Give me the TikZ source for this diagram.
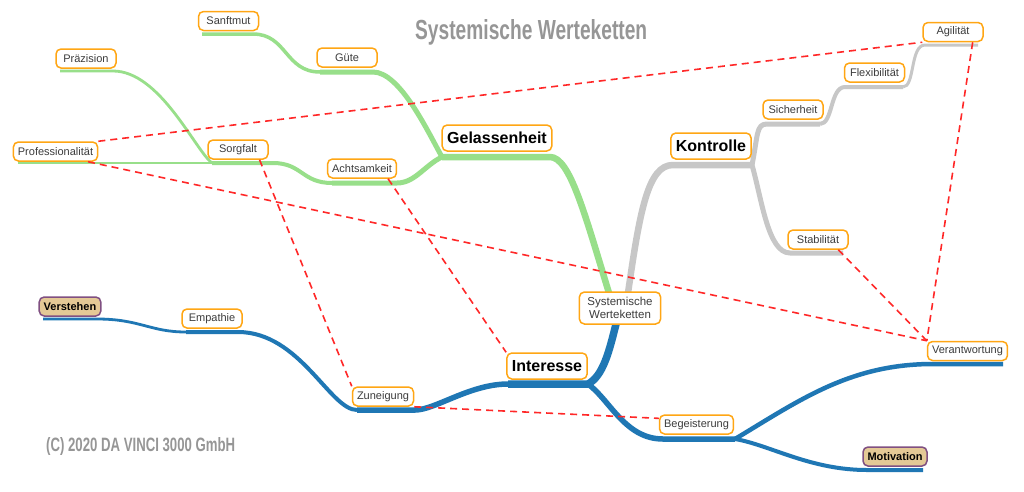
\documentclass[tikz,border=0pt]{standalone}
\usepackage{fontspec}
\usepackage{graphicx}
\setmainfont{Liberation Sans}
\usetikzlibrary{calc}
\definecolor{lgreen}{HTML}{98DF8A}
\definecolor{lgray}{HTML}{C7C7C7}
\definecolor{dblue}{HTML}{1F77B4}
\definecolor{borange}{RGB}{255,166,20}
\definecolor{tanfill}{RGB}{228,201,150}
\definecolor{purp}{RGB}{128,80,130}
\definecolor{ttlgray}{RGB}{150,150,150}
\definecolor{dashred}{RGB}{255,40,40}
\definecolor{txtgray}{RGB}{60,60,60}
\tikzset{
  lbl/.style={draw=borange, line width=1.5pt, rounded corners=5pt, fill=white, text=txtgray,
    font=\fontsize{11}{13}\selectfont, minimum width=60pt, minimum height=19pt,
    inner xsep=4.5pt, inner ysep=2pt},
  big/.style={lbl, font=\fontsize{16}{19}\selectfont\bfseries, text=black, minimum height=26pt, inner xsep=5pt},
  goal/.style={lbl, fill=tanfill, draw=purp, text=black, font=\fontsize{11}{13}\selectfont\bfseries},
  rootn/.style={lbl, align=center, font=\fontsize{11.5}{12.5}\selectfont, inner xsep=8pt, minimum height=32pt},
  link/.style={draw=dashred, dash pattern=on 7pt off 5pt, line width=1.6pt},
  gbr/.style={draw=lgreen, line join=round},
  ybr/.style={draw=lgray, line join=round},
  bbr/.style={draw=dblue, line join=round},
  ttl/.style={text=ttlgray, anchor=base west, inner sep=0pt}
}
\begin{document}
\begin{tikzpicture}[x=1pt, y=-1pt]
\useasboundingbox (0,0) rectangle (1024,491);
\fill[white] (0,0) rectangle (1024,491);

% title and copyright
\node[ttl] (title) at (415,39) {\resizebox{232pt}{20pt}{\bfseries Systemische Werteketten}};
\node[ttl] (copy) at (46,451) {\resizebox{189pt}{14pt}{\bfseries (C) 2020 DA VINCI 3000 GmbH}};

% green branches
\draw[gbr, line width=3.5pt] (202,34) -- (253,34) .. controls (287,34) and (285,72) .. (320,72);
\draw[gbr, line width=5pt] (320,72) -- (373,72) .. controls (400,72) and (428,132) .. (442,157);
\draw[gbr, line width=2.8pt] (60,71) -- (113,71) .. controls (160,71) and (195,150) .. (212,163);
\draw[gbr, line width=2.8pt] (18,163) -- (212,163);
\draw[gbr, line width=4pt] (212,163) -- (273,163) .. controls (302,163) and (302,183) .. (332,183);
\draw[gbr, line width=5pt] (332,183) -- (397,183) .. controls (415,183) and (425,165) .. (442,157);
\draw[gbr, line width=6.5pt] (442,157) -- (550,157) .. controls (570,157) and (585,215) .. (609,293);

% gray branches
\draw[ybr, line width=6.5pt] (628,293) .. controls (640,210) and (648,165) .. (673,165) -- (752,165);
\draw[ybr, line width=5pt] (752,165) .. controls (758,135) and (756,124) .. (767,124) -- (820,124);
\draw[ybr, line width=4pt] (820,124) .. controls (833,124) and (830,87) .. (845,87) -- (903,87);
\draw[ybr, line width=3pt] (903,87) .. controls (915,87) and (910,45) .. (925,45) -- (978,45);
\draw[ybr, line width=5pt] (752,165) .. controls (762,200) and (768,253) .. (790,253) -- (843,253);

% blue branches
\draw[bbr, line width=7.5pt] (616,324) .. controls (609,352) and (603,376) .. (588,384) -- (508,384);
\draw[bbr, line width=5.5pt] (588,384) .. controls (610,400) and (625,439) .. (663,439) -- (735,439);
\draw[bbr, line width=4.5pt] (735,439) .. controls (800,400) and (850,364) .. (933,364) -- (1003,364);
\draw[bbr, line width=4pt] (735,439) .. controls (770,445) and (810,470) .. (867,470) -- (923,470);
\draw[bbr, line width=5.5pt] (508,384) .. controls (470,384) and (435,410) .. (415,410) -- (357,410);
\draw[bbr, line width=4pt] (357,410) .. controls (330,410) and (300,332) .. (238,332) -- (186,332);
\draw[bbr, line width=2.8pt] (186,332) .. controls (150,332) and (140,319) .. (97,319) -- (43,319);

% nodes
\node[lbl] (sanft) at (228.5,21) {Sanftmut};
\node[lbl] (guete) at (347,57.5) {Güte};
\node[lbl] (praez) at (86,58.5) {Präzision};
\node[lbl] (prof) at (55.5,151.5) {Professionalität};
\node[lbl] (sorg) at (238,149.5) {Sorgfalt};
\node[lbl] (acht) at (362,168.5) {Achtsamkeit};
\node[big] (gel) at (497,138) {Gelassenheit};
\node[big] (kon) at (711,146) {Kontrolle};
\node[lbl] (sich) at (793,109.5) {Sicherheit};
\node[lbl] (flex) at (874.5,72.5) {Flexibilität};
\node[lbl] (agil) at (953,32) {Agilität};
\node[lbl] (stab) at (818,239.5) {Stabilität};
\node[rootn] (root) at (620,308) {Systemische\\Werteketten};
\node[big] (inter) at (547,366) {Interesse};
\node[lbl] (zun) at (383,396.5) {Zuneigung};
\node[lbl] (emp) at (212,318.5) {Empathie};
\node[goal] (verst) at (70,306.5) {Verstehen};
\node[lbl] (beg) at (696.5,424.5) {Begeisterung};
\node[lbl] (verant) at (967.5,351) {Verantwortung};
\node[goal] (motiv) at (895,456.5) {Motivation};

% red dashed relations
\draw[link] (prof.north east) -- (agil.south west);
\draw[link] ($(prof.south west)!0.88!(prof.south east)$) -- (verant.north west);
\draw[link] ($(sorg.south west)!0.85!(sorg.south east)$) -- (zun.north west);
\draw[link] ($(acht.south west)!0.87!(acht.south east)$) -- (inter.north west);
\draw[link] ($(stab.south west)!0.83!(stab.south east)$) -- (verant.north west);
\draw[link] ($(agil.south west)!0.82!(agil.south east)$) -- (verant.north west);
\draw[link] (zun.south east) -- ($(beg.north west)!0.2!(beg.south west)$);
\end{tikzpicture}
\end{document}
